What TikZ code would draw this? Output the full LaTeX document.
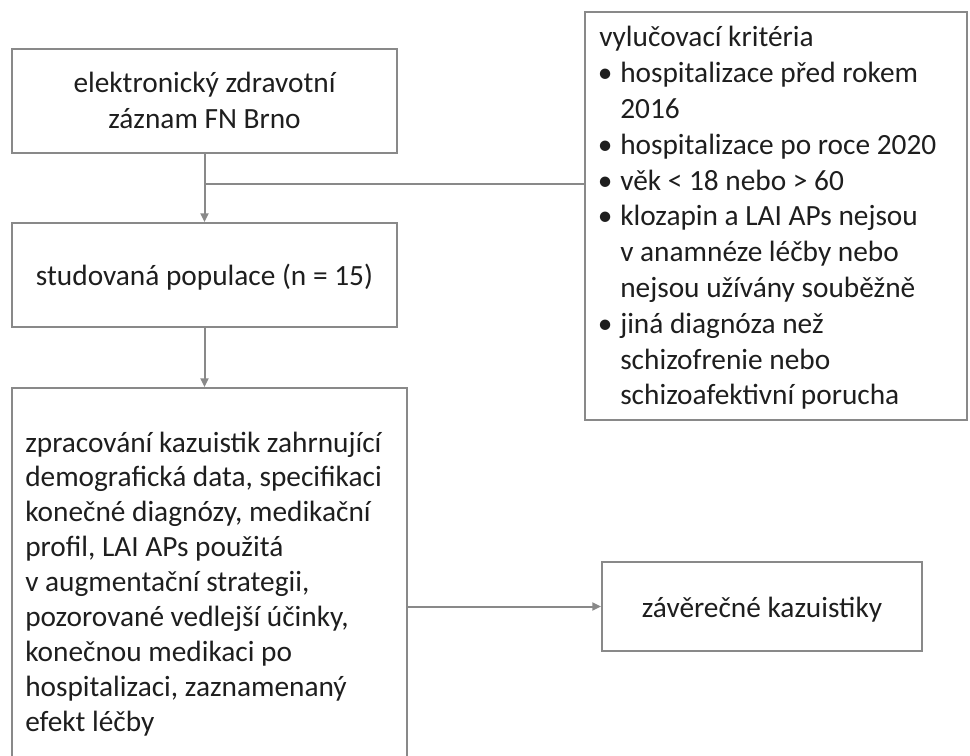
\documentclass[tikz,border=0pt]{standalone}
\usepackage{fontspec}
\setmainfont{Carlito}
\usetikzlibrary{arrows.meta}
\definecolor{lc}{RGB}{137,137,137}
\definecolor{tc}{RGB}{30,30,30}
\begin{document}
\begin{tikzpicture}[x=0.75pt,y=-0.75pt,
  box/.style={draw=lc, line width=1.5pt, inner sep=0pt},
  txt/.style={inner sep=0pt, text=tc, font=\fontsize{22}{26.5}\selectfont},
  conn/.style={draw=lc, line width=1.5pt},
  arr/.style={conn, -{Triangle[length=6.5pt,width=6pt]}}
]
\useasboundingbox (0,0) rectangle (970,756);
\clip (0,0) rectangle (970,756);
% boxes
\node[box, minimum width=288.75pt, minimum height=78pt] (b1) at (204.5,101) {};
\node[box, minimum width=288.75pt, minimum height=78pt] (b2) at (204.5,275) {};
\node[box, minimum width=296.25pt, minimum height=286.5pt] (b3) at (209.5,579) {};
\node[box, minimum width=286.5pt, minimum height=306pt] (ex) at (776,216) {};
\node[box, minimum width=240pt, minimum height=66.75pt] (b4) at (762,606.5) {};
% texts
\node[txt, anchor=base] (t1) at (204.5,92.7) {\begin{tabular}[t]{@{}c@{}}elektronický zdravotní\\záznam FN Brno\end{tabular}};
\node[txt, anchor=base] (t2) at (204.5,285) {studovaná populace (n = 15)};
\node[txt, anchor=base west, font=\fontsize{22}{26.2}\selectfont] (t3) at (25,452) {\begin{tabular}[t]{@{}l@{}}
zpracování kazuistik zahrnující\\
demografická data, specifikaci\\
konečné diagnózy, medikační\\
profil, LAI APs použitá\\
v augmentační strategii,\\
pozorované vedlejší účinky,\\
konečnou medikaci po\\
hospitalizaci, zaznamenaný\\
efekt léčby\end{tabular}};
\node[txt, anchor=base] (t4) at (762,617) {závěrečné kazuistiky};
\newcommand{\bul}{\makebox[15.75pt][l]{\hspace{-1pt}•}}
\newcommand{\ind}{\hspace*{15.75pt}}
\node[txt, anchor=base west, font=\fontsize{22}{26.85}\selectfont] (t5) at (599,47) {\begin{tabular}[t]{@{}l@{}}
vylučovací kritéria\\
\bul hospitalizace před rokem\\
\ind 2016\\
\bul hospitalizace po roce 2020\\
\bul věk < 18 nebo > 60\\
\bul klozapin a LAI APs nejsou\\
\ind v anamnéze léčby nebo\\
\ind nejsou užívány souběžně\\
\bul jiná diagnóza než\\
\ind schizofrenie nebo\\
\ind schizoafektivní porucha\end{tabular}};
% connectors
\coordinate (br) at (204.5,184);
\draw[arr] (b1.south) -- (b2.north);
\draw[conn] (br) -- (ex.west |- br);
\draw[arr] (b2.south) -- (b2.south |- b3.north);
\draw[arr] (b3.east |- b4.west) -- (b4.west);
\end{tikzpicture}
\end{document}
